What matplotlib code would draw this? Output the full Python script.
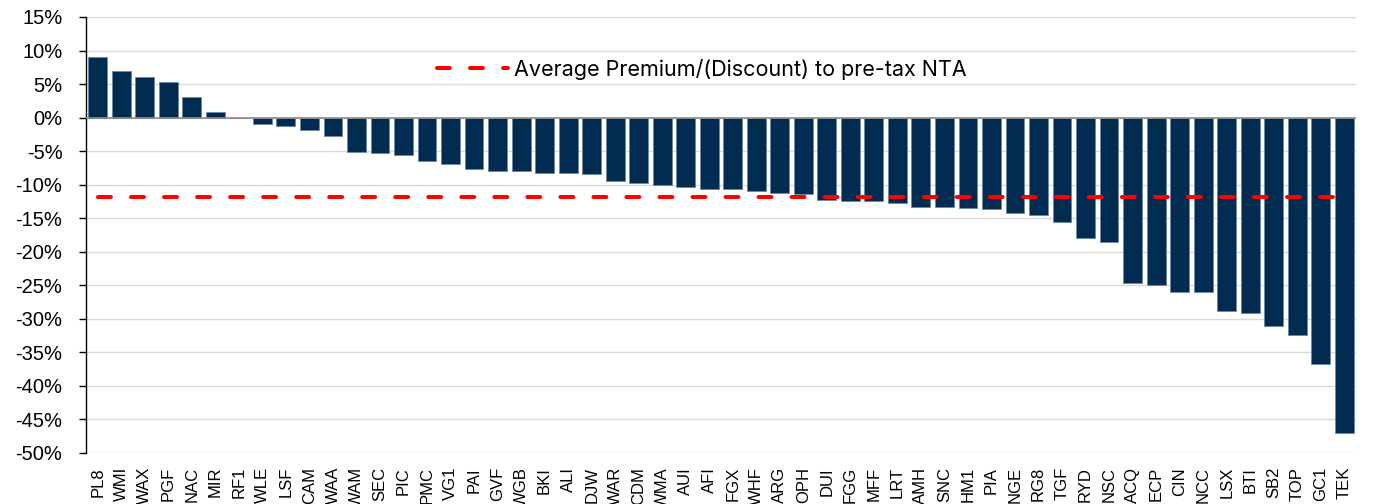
import matplotlib
matplotlib.use("Agg")
import matplotlib.pyplot as plt
from matplotlib.ticker import FuncFormatter, MultipleLocator

tickers = ["PL8", "WMI", "WAX", "PGF", "NAC", "MIR", "RF1", "WLE", "LSF", "CAM",
           "WAA", "WAM", "SEC", "PIC", "PMC", "VG1", "PAI", "GVF", "WGB", "BKI",
           "ALI", "DJW", "WAR", "CDM", "WMA", "AUI", "AFI", "FGX", "WHF", "ARG",
           "OPH", "DUI", "FGG", "MFF", "LRT", "AMH", "SNC", "HM1", "PIA", "NGE",
           "RG8", "TGF", "RYD", "NSC", "ACQ", "ECP", "CIN", "NCC", "LSX", "BTI",
           "SB2", "TOP", "GC1", "TEK"]
premium = [9.0, 6.95, 6.1, 5.3, 3.0, 0.8, 0.0, -0.9, -1.25, -1.8,
           -2.8, -5.1, -5.3, -5.6, -6.5, -6.9, -7.6, -8.0, -8.0, -8.2,
           -8.3, -8.4, -9.5, -9.8, -10.0, -10.4, -10.6, -10.6, -11.0, -11.2,
           -11.4, -12.3, -12.5, -12.5, -12.8, -13.3, -13.4, -13.5, -13.6, -14.2,
           -14.5, -15.6, -17.9, -18.5, -24.7, -24.9, -26.0, -26.0, -28.9, -29.1,
           -31.1, -32.4, -36.8, -47.0]
average = [-11.85] * len(tickers)
legend_label = "Average Premium/(Discount) to pre-tax NTA"

plt.rcParams["font.family"] = ["Liberation Sans", "DejaVu Sans"]

fig = plt.figure(figsize=(13.75, 5.04), dpi=100)
ax = fig.add_axes([86/1375, 1-453/504, (1356-86)/1375, (453-17)/504])

x = list(range(len(tickers)))
ax.bar(x, premium, width=0.8, color="#022B52", edgecolor="#6f87a3", linewidth=0.6, zorder=3)
line, = ax.plot(x, average, color="#FF0000", linewidth=2.9, linestyle=(0, (3.2, 5.0)),
                dash_capstyle="round", zorder=4, label=legend_label)

ax.set_xlim(-0.5, len(tickers) - 0.5)
ax.set_ylim(-50, 15)
ax.yaxis.set_major_locator(MultipleLocator(5))
ax.yaxis.set_major_formatter(FuncFormatter(lambda v, p: f"{v:.0f}%"))
ax.grid(axis="y", color="#d9d9d9", linewidth=1.0, zorder=0)
ax.axhline(0, color="#8c8c8c", linewidth=1.2, zorder=3.5)

for s in ["top", "right", "bottom"]:
    ax.spines[s].set_visible(False)
ax.spines["left"].set_color("#000000")
ax.spines["left"].set_linewidth(1.0)

ax.set_xticks(x)
ax.set_xticklabels(tickers, rotation=90, fontsize=12, va="top")
ax.tick_params(axis="x", length=0, pad=10)
ax.tick_params(axis="y", length=5, width=1, pad=12, labelsize=14.5)

leg = ax.legend(handles=[line], loc="center left", bbox_to_anchor=(437/1375, 1-69/504),
                bbox_transform=fig.transFigure, frameon=False, borderpad=0, borderaxespad=0,
                handlelength=3.3, handletextpad=0.28,
                prop={"family": "Inter", "size": 15.5})

fig.savefig("out.png", dpi=100)
